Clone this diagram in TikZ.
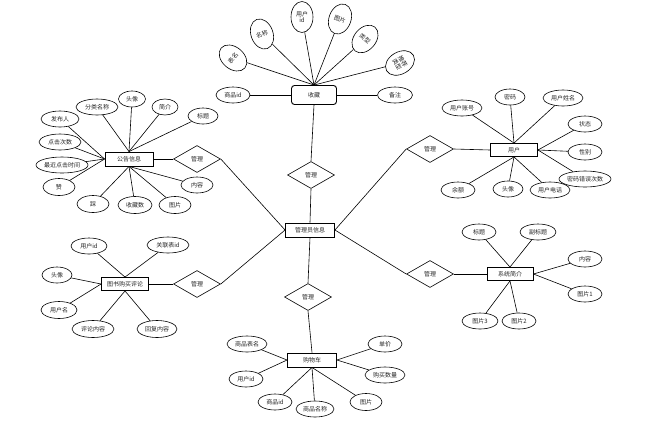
\documentclass[tikz,border=0pt]{standalone}
\usepackage{fontspec}
\newfontfamily\cjk{Noto Sans CJK SC}
\usetikzlibrary{shapes.geometric}
\tikzset{
  base/.style={font=\cjk\fontsize{6}{6.5}\selectfont, text=black!85},
  attr/.style={base, ellipse, draw, line width=0.6pt, inner sep=0pt, minimum width=#1, minimum height=16pt},
  attr/.default=34pt,
  fan/.style={base, ellipse, draw, line width=0.6pt, inner sep=0pt, minimum width=22pt, minimum height=31pt, align=center},
  ent/.style={base, rectangle, draw, line width=0.9pt, inner sep=1pt, minimum width=#1, minimum height=14pt},
  ent/.default=48pt,
  rel/.style={base, diamond, draw, line width=0.6pt, inner sep=0pt, minimum width=47pt, minimum height=27pt},
  ln/.style={line width=0.6pt},
}
\begin{document}
\begin{tikzpicture}[x=1pt,y=-1pt]
\useasboundingbox (0,0) rectangle (662,424);

% central
\node[ent=49pt] (admin) at (310,230) {管理员信息};
\node[rel] (dt) at (311,175) {管理};
\node[rel] (db) at (308,297) {管理};

% 收藏
\node[ent=45pt, minimum height=19pt, rounded corners=3pt] (fav) at (314,95) {收藏};
\node[attr=34pt] (fa1) at (233,95) {商品id};
\node[attr=35pt] (fa2) at (395,95) {备注};
\node[fan, rotate=50] (fa3) at (233,58) {表名};
\node[fan, rotate=20] (fa4) at (262,34) {名称};
\node[fan] (fa5) at (302,17) {用户\\id};
\node[fan, rotate=-20] (fa6) at (340,19) {图片};
\node[fan, rotate=-40] (fa7) at (365,39) {类型};
\node[fan, rotate=-60] (fa8) at (400,63) {推荐\\类型};
\draw[ln] (fa1) -- (fav.west);
\draw[ln] (fa2) -- (fav.east);
\foreach \n in {fa3,fa4,fa5,fa6,fa7,fa8} \draw[ln] (\n) -- (fav.north);
\draw[ln] (fav.south) -- (dt.north);
\draw[ln] (dt.south) -- (admin.north);

% 公告信息
\node[ent] (news) at (129,159) {公告信息};
\node[rel] (d1) at (197,159) {管理};
\node[attr=42pt] (n1) at (97,107) {分类名称};
\node[attr=27pt] (n2) at (132,99) {头像};
\node[attr=26pt] (n3) at (165,107) {简介};
\node[attr=30pt] (n4) at (203,116) {标题};
\node[attr=38pt] (n5) at (60,119) {发布人};
\node[attr=42pt] (n6) at (60,142) {点击次数};
\node[attr=52pt] (n7) at (62,165) {最近点击时间};
\node[attr=32pt, minimum height=17pt] (n8) at (59,187) {赞};
\node[attr=32pt, minimum height=17pt] (n9) at (93,204) {踩};
\node[attr=34pt, minimum height=17pt] (n10) at (135,205) {收藏数};
\node[attr=32pt, minimum height=17pt] (n11) at (175,205) {图片};
\node[attr=32pt] (n12) at (197,185) {内容};
\foreach \n in {n1,n2,n3,n4} \draw[ln] (\n) -- (news.north);
\foreach \n in {n5,n6,n7,n8} \draw[ln] (\n) -- (news.west);
\foreach \n in {n9,n10,n11,n12} \draw[ln] (\n) -- (news.south);
\draw[ln] (news.east) -- (d1.west);
\draw[ln] (d1.east) -- (admin.west);

% 用户
\node[ent=47pt, minimum height=13pt] (user) at (514,150) {用户};
\node[rel] (d3) at (430,149) {管理};
\node[attr=40pt] (u1) at (462,108) {用户账号};
\node[attr=30pt] (u2) at (510,97) {密码};
\node[attr=40pt] (u3) at (563,98) {用户姓名};
\node[attr=34pt] (u4) at (585,124) {状态};
\node[attr=34pt] (u5) at (585,152) {性别};
\node[attr=52pt] (u6) at (585,179) {密码错误次数};
\node[attr=34pt] (u7) at (458,190) {余额};
\node[attr=30pt] (u8) at (508,189) {头像};
\node[attr=40pt] (u9) at (550,190) {用户电话};
\foreach \n in {u1,u2,u3} \draw[ln] (\n) -- (user.north);
\foreach \n in {u4,u5,u6} \draw[ln] (\n) -- (user.east);
\foreach \n in {u7,u8,u9} \draw[ln] (\n) -- (user.south);
\draw[ln] (user.west) -- (d3.east);
\draw[ln] (d3.west) -- (admin.east);

% 图书购买评论
\node[ent=47pt, minimum height=13pt] (rev) at (125,284) {图书购买评论};
\node[rel] (d2) at (197,284) {管理};
\node[attr=36pt] (r1) at (89,246) {用户id};
\node[attr=42pt] (r2) at (168,245) {关联表id};
\node[attr=30pt] (r3) at (57,275) {头像};
\node[attr=36pt, minimum height=17pt] (r4) at (59,310) {用户名};
\node[attr=42pt, minimum height=17pt] (r5) at (93,329) {评论内容};
\node[attr=40pt, minimum height=17pt] (r6) at (157,329) {回复内容};
\foreach \n in {r1,r2} \draw[ln] (\n) -- (rev.north);
\foreach \n in {r3,r4} \draw[ln] (\n) -- (rev.west);
\foreach \n in {r5,r6} \draw[ln] (\n) -- (rev.south);
\draw[ln] (rev.east) -- (d2.west);
\draw[ln] (d2.east) -- (admin.west);

% 购物车
\node[ent=49pt] (cart) at (312,360) {购物车};
\node[attr=40pt] (c1) at (247,344) {商品表名};
\node[attr=34pt] (c2) at (246,379) {用户id};
\node[attr=34pt] (c3) at (275,402) {商品id};
\node[attr=38pt] (c4) at (315,409) {商品名称};
\node[attr=32pt, minimum height=17pt] (c5) at (366,402) {图片};
\node[attr=40pt] (c6) at (385,375) {购买数量};
\node[attr=34pt] (c7) at (385,344) {单价};
\foreach \n in {c1,c2} \draw[ln] (\n) -- (cart.west);
\foreach \n in {c3,c4,c5} \draw[ln] (\n) -- (cart.south);
\foreach \n in {c6,c7} \draw[ln] (\n) -- (cart.east);
\draw[ln] (admin.south) -- (db.north);
\draw[ln] (db.south) -- (cart.north);

% 系统简介
\node[ent=46pt, minimum height=13pt] (sys) at (510,274) {系统简介};
\node[rel] (d4) at (430,274) {管理};
\node[attr=34pt] (s1) at (479,232) {标题};
\node[attr=36pt] (s2) at (538,232) {副标题};
\node[attr=34pt] (s3) at (585,259) {内容};
\node[attr=34pt] (s4) at (585,294) {图片1};
\node[attr=36pt] (s5) at (480,321) {图片3};
\node[attr=34pt] (s6) at (519,321) {图片2};
\foreach \n in {s1,s2} \draw[ln] (\n) -- (sys.north);
\foreach \n in {s3,s4} \draw[ln] (\n) -- (sys.east);
\foreach \n in {s5,s6} \draw[ln] (\n) -- (sys.south);
\draw[ln] (sys.west) -- (d4.east);
\draw[ln] (d4.west) -- (admin.east);
\end{tikzpicture}
\end{document}
